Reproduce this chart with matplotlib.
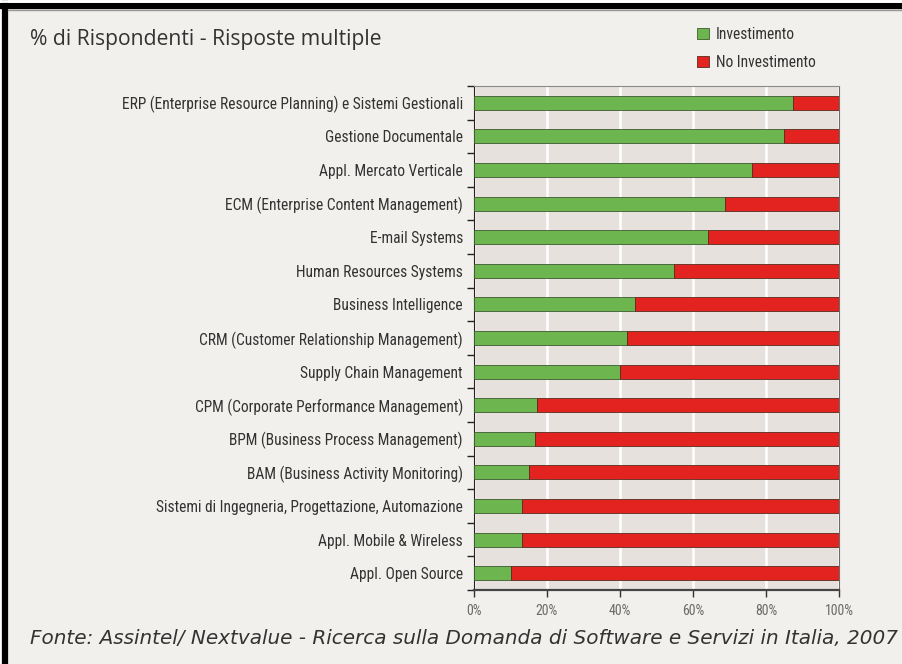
import matplotlib.pyplot as plt
from matplotlib.patches import Rectangle, Patch
from matplotlib.lines import Line2D

# Dati (% di rispondenti)
CATEGORIES = [
    "ERP (Enterprise Resource Planning) e Sistemi Gestionali",
    "Gestione Documentale",
    "Appl. Mercato Verticale",
    "ECM (Enterprise Content Management)",
    "E-mail Systems",
    "Human Resources Systems",
    "Business Intelligence",
    "CRM (Customer Relationship Management)",
    "Supply Chain Management",
    "CPM (Corporate Performance Management)",
    "BPM (Business Process Management)",
    "BAM (Business Activity Monitoring)",
    "Sistemi di Ingegneria, Progettazione, Automazione",
    "Appl. Mobile & Wireless",
    "Appl. Open Source",
]
INVESTIMENTO = [87.5, 85.0, 76.1, 68.9, 64.2, 54.9, 44.2, 42.0, 40.0,
                17.3, 16.8, 15.1, 13.2, 13.2, 10.1]
NO_INVESTIMENTO = [100 - v for v in INVESTIMENTO]
X_TICKS = [0, 20, 40, 60, 80, 100]
X_LABELS = ["0%", "20%", "40%", "60%", "80%", "100%"]

GREEN = "#6db54f"
RED = "#e3231f"
BG = "#f2f0ed"
AX_BG = "#e6e1dd"
NARROW = ["Roboto Condensed", "DejaVu Sans"]

W, H = 903, 664
fig = plt.figure(figsize=(W / 100, H / 100), dpi=100, facecolor="white")

# pannello di sfondo con bordo nero a sinistra e in alto
fig.patches.append(Rectangle((0, 0), 1, 1, transform=fig.transFigure,
                             facecolor=BG, edgecolor="none", zorder=-10))
fig.add_artist(Line2D([2 / W, 2 / W], [0, 1], color="white", lw=4,
                      transform=fig.transFigure))
fig.add_artist(Line2D([5 / W, 5 / W], [0, 1 - 3 / H], color="black", lw=4.5,
                      transform=fig.transFigure))
fig.add_artist(Line2D([0, 1], [1 - 5.5 / H, 1 - 5.5 / H], color="black", lw=4.5,
                      transform=fig.transFigure))
fig.add_artist(Line2D([0, 1], [1 - 1 / H, 1 - 1 / H], color="white", lw=2,
                      transform=fig.transFigure))
fig.add_artist(Line2D([8 / W, 1], [1 - 9.5 / H, 1 - 9.5 / H], color="#9a9894", lw=1,
                      transform=fig.transFigure))

left, right, top, bottom = 474, 839, 86, 590
ax = fig.add_axes([left / W, 1 - bottom / H, (right - left) / W, (bottom - top) / H])
ax.set_facecolor(AX_BG)

y = list(range(len(CATEGORIES)))
ax.barh(y, INVESTIMENTO, height=0.42, color=GREEN, edgecolor="#3d5a30",
        linewidth=0.6, label="Investimento", zorder=3)
ax.barh(y, NO_INVESTIMENTO, left=INVESTIMENTO, height=0.42, color=RED,
        edgecolor="#5a2a20", linewidth=0.6, label="No Investimento", zorder=3)

ax.set_xlim(0, 100)
ax.set_ylim(len(CATEGORIES) - 0.5, -0.5)
ax.set_xticks(X_TICKS)
ax.set_xticklabels(X_LABELS, family=NARROW, stretch="condensed", fontsize=10,
                   color="#6a6a6a")
ax.set_yticks(y)
ax.set_yticklabels(CATEGORIES, family=NARROW, stretch="condensed", fontsize=11.2,
                   color="#333333")
ax.tick_params(axis="y", length=0, pad=8)
ax.set_yticks([k - 0.5 for k in range(len(CATEGORIES) + 1)], minor=True)
ax.tick_params(axis="y", which="minor", length=5, width=1, color="#222222")
ax.tick_params(axis="x", length=5, width=1, color="#333333", pad=5)

ax.grid(axis="x", color="white", linewidth=1.8, zorder=1)
ax.set_axisbelow(True)
ax.spines["left"].set_color("#222222")
ax.spines["bottom"].set_color("#444444")
ax.spines["bottom"].set_linewidth(1.6)
ax.spines["top"].set_color("#8a8a8a")
ax.spines["right"].set_color("#6a6a6a")

fig.text(30 / W, 1 - 39 / H, "% di Rispondenti - Risposte multiple",
         family="Open Sans", fontsize=15.2, color="#333333", va="center")

handles = [Patch(facecolor=GREEN, edgecolor="#3d5a30", linewidth=0.6),
           Patch(facecolor=RED, edgecolor="#5a2a20", linewidth=0.6)]
fig.legend(handles, ["Investimento", "No Investimento"],
           loc="upper left", bbox_to_anchor=(683 / W, 1 - 13 / H),
           frameon=False, prop={"family": NARROW, "stretch": "condensed", "size": 11.2},
           handlelength=0.75, handleheight=0.75, handletextpad=0.45,
           labelspacing=0.85, labelcolor="#333333")

fig.text(30 / W, 1 - 638 / H,
         "Fonte: Assintel/ Nextvalue - Ricerca sulla Domanda di Software e Servizi in Italia, 2007",
         family="DejaVu Sans", style="italic", fontsize=14.4, color="#333333", va="center")

fig.savefig("out.png", dpi=100, facecolor="white")
